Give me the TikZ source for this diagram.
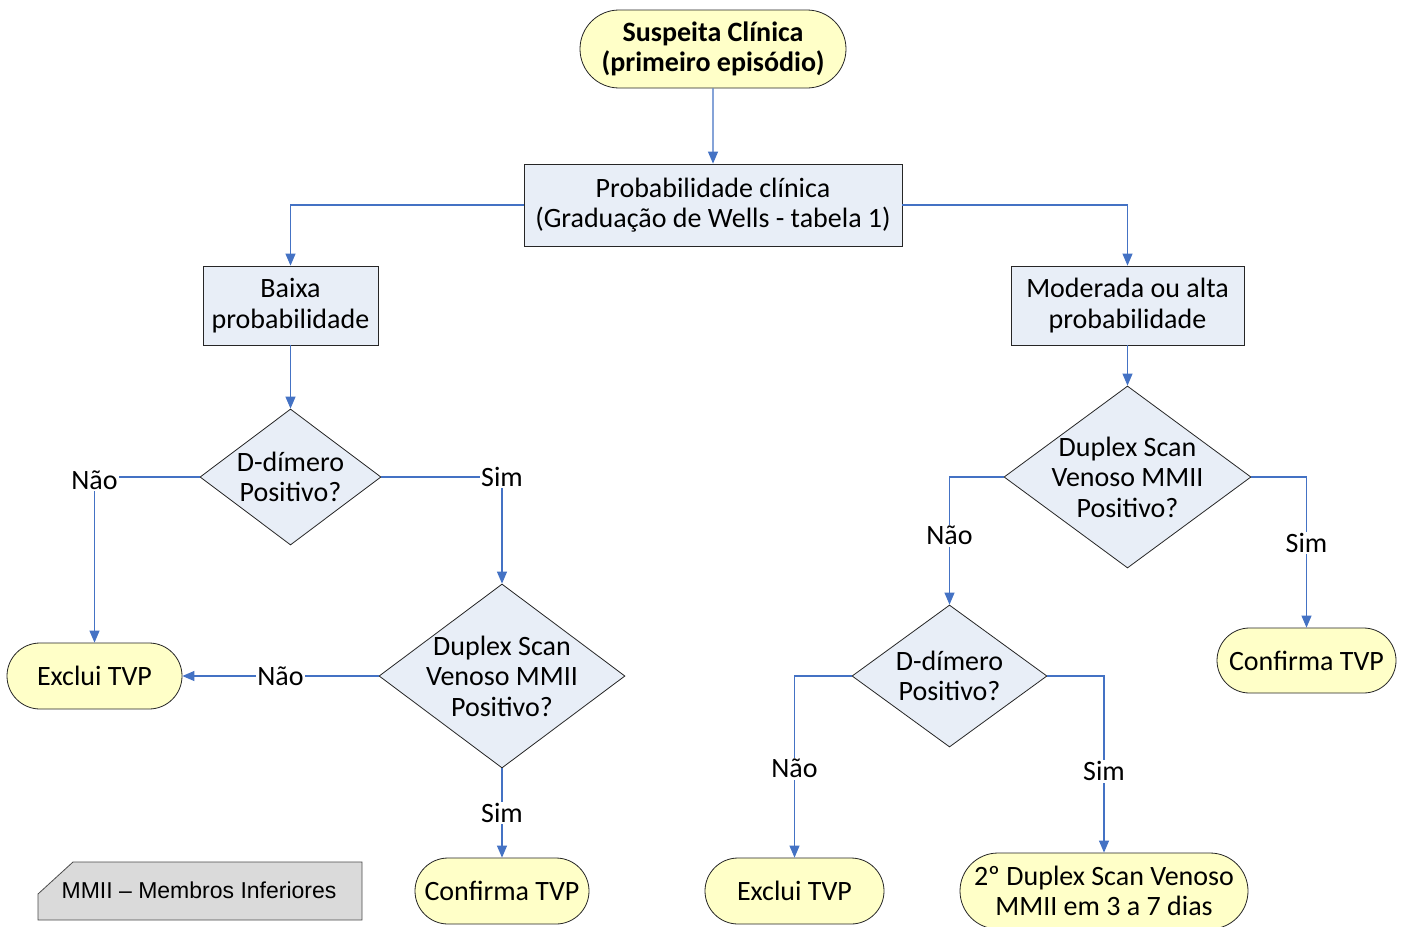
\documentclass[tikz,border=0pt]{standalone}
\usepackage{fontspec}
\setmainfont{Carlito}
\newfontfamily\legfont{Liberation Sans}
\usetikzlibrary{shapes.geometric,shapes.misc,arrows.meta}
\definecolor{linec}{RGB}{68,114,196}
\definecolor{termfill}{RGB}{255,255,200}
\definecolor{boxfill}{RGB}{232,238,247}
\definecolor{legfill}{RGB}{218,218,218}
\begin{document}
\begin{tikzpicture}[x=1pt,y=-1pt,
  txt/.style={font=\fontsize{28}{30.5}\selectfont, align=center},
  term/.style={rounded rectangle, draw=black!85, fill=termfill, line width=0.8pt, inner sep=0pt, txt},
  proc/.style={rectangle, draw=black!85, fill=boxfill, line width=0.8pt, inner sep=0pt, txt},
  dia/.style={diamond, draw=black!85, fill=boxfill, line width=0.8pt, inner sep=0pt},
  dtext/.style={txt, inner sep=0pt},
  conn/.style={draw=linec, line width=1.1pt, -{Triangle[length=12pt,width=10pt]}},
  lbl/.style={fill=white, inner sep=1.5pt, txt}]
\useasboundingbox (0,0) rectangle (1402,926);
\fill[white] (0,0) rectangle (1402,926);

\node[term, minimum width=266, minimum height=78, font=\fontsize{28}{30.5}\selectfont\bfseries] (start) at (713,49) {Suspeita Clínica\\(primeiro episódio)};
\node[proc, minimum width=378, minimum height=82] (prob) at (713,205) {Probabilidade clínica\\(Graduação de Wells - tabela 1)};
\node[proc, minimum width=175, minimum height=79] (baixa) at (290.5,305.5) {Baixa\\probabilidade};
\node[proc, minimum width=233, minimum height=79] (mod) at (1127.5,305.5) {Moderada ou alta\\probabilidade};

\node[dia, minimum width=181, minimum height=136, label={[dtext]center:{D-dímero\\Positivo?}}] (d1) at (290.5,477) {};
\node[dia, minimum width=246, minimum height=184, label={[dtext]center:{Duplex Scan\\Venoso MMII\\Positivo?}}] (d2) at (502,676) {};
\node[dia, minimum width=247, minimum height=182, label={[dtext]center:{Duplex Scan\\Venoso MMII\\Positivo?}}] (d3) at (1127.5,477) {};
\node[dia, minimum width=195, minimum height=142, label={[dtext]center:{D-dímero\\Positivo?}}] (d4) at (949.5,676) {};

\node[term, minimum width=175, minimum height=66] (ex1) at (94.5,676) {Exclui TVP};
\node[term, minimum width=174, minimum height=66] (cf1) at (502,891) {Confirma TVP};
\node[term, minimum width=179, minimum height=65] (cf2) at (1306.5,660.5) {Confirma TVP};
\node[term, minimum width=179, minimum height=66] (ex2) at (794.5,891) {Exclui TVP};
\node[term, minimum width=288, minimum height=76] (dup2) at (1104,891) {2º Duplex Scan Venoso\\MMII em 3 a 7 dias};

\draw[fill=legfill, draw=black!70, line width=0.8pt] (73,862) -- (362,862) -- (362,920) -- (38,920) -- (38,894) -- cycle;
\node[font=\legfont\fontsize{23}{26}\selectfont, inner sep=0pt] (leg) at (199,890) {MMII – Membros Inferiores};

\draw[conn] (start) -- (prob);
\draw[conn] (prob.west) -| (baixa.north);
\draw[conn] (prob.east) -| (mod.north);
\draw[conn] (baixa) -- (d1);
\draw[conn] (mod) -- (d3);
\draw[conn] (d1.west) -| node[lbl, pos=0.5, yshift=-3pt]{Não} (ex1.north);
\draw[conn] (d1.east) -| node[lbl, pos=0.5]{Sim} (d2.north);
\draw[conn] (d2.west) -- node[lbl]{Não} (ex1.east);
\draw[conn] (d2.south) -- node[lbl]{Sim} (cf1.north);
\draw[conn] (d3.west) -| node[lbl, pos=0.73]{Não} (d4.north);
\draw[conn] (d3.east) -| node[lbl, pos=0.72]{Sim} (cf2.north);
\draw[conn] (d4.west) -| node[lbl, pos=0.755]{Não} (ex2.north);
\draw[conn] (d4.east) -| node[lbl, pos=0.77]{Sim} (dup2.north);
\end{tikzpicture}
\end{document}
